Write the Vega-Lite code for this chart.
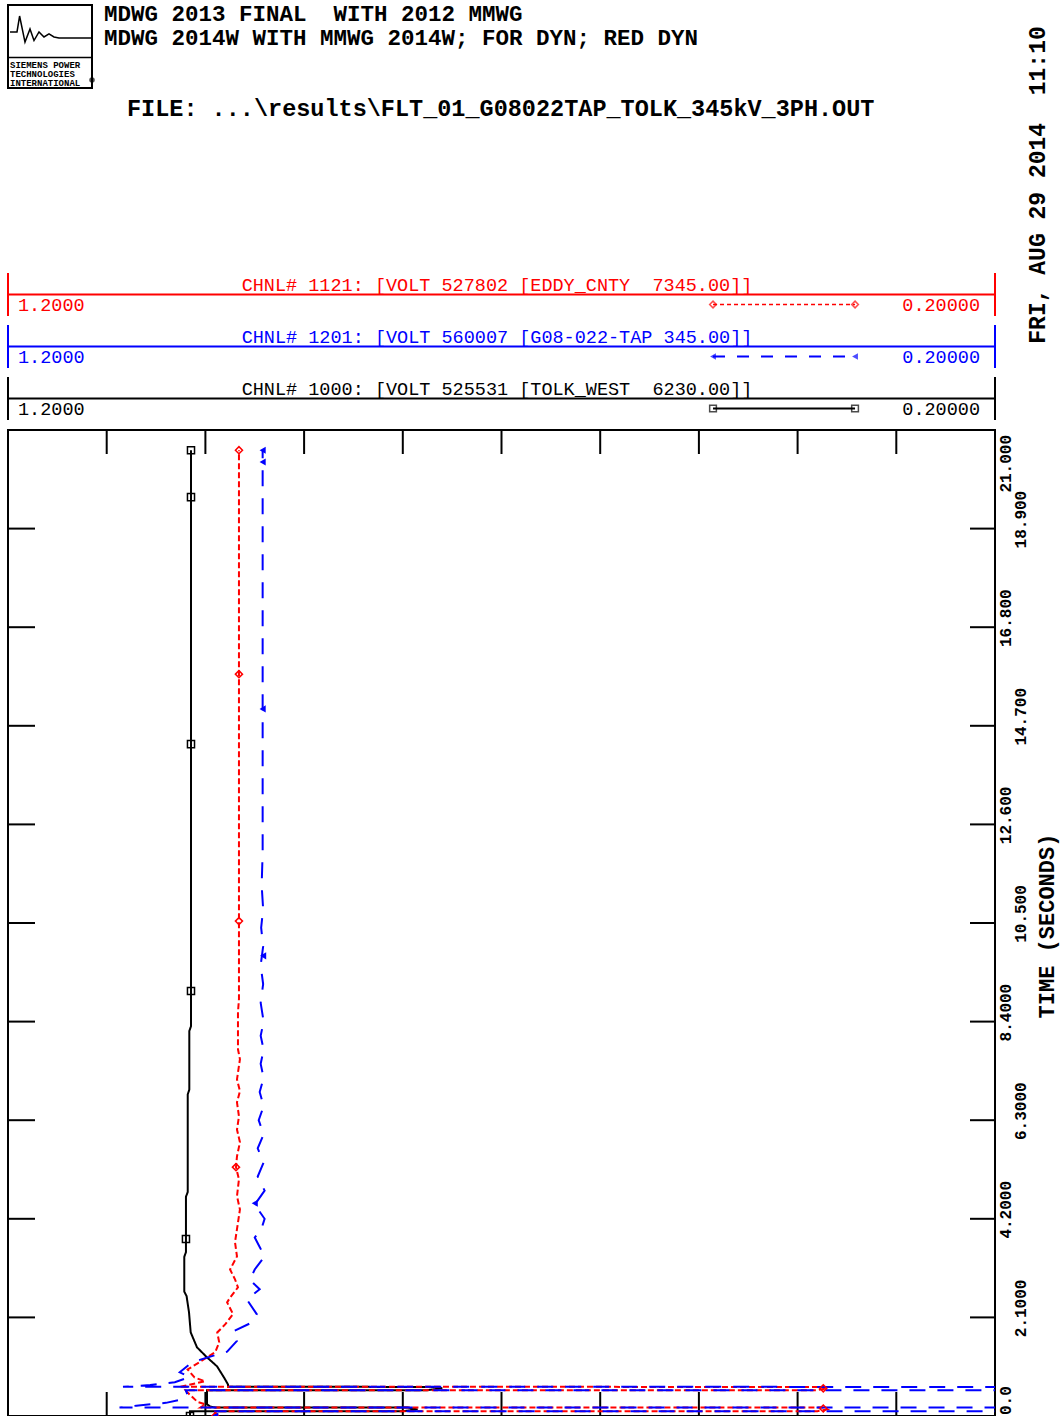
{
  "$schema": "https://vega.github.io/schema/vega-lite/v6.json",
  "autosize": {"type": "none"},
  "width": 987,
  "height": 986,
  "padding": {"left": 8, "top": 430, "right": 68, "bottom": 0},
  "background": "white",
  "config": {"view": {"stroke": null}, "font": "Liberation Mono"},
  "datasets": {
    "traces": [
      {"ch": "1000", "t": 0, "v": 1.0156}, {"ch": "1000", "t": 0.1, "v": 1.0156},
      {"ch": "1000", "t": 0.101, "v": 0.80}, {"ch": "1000", "t": 0.14, "v": 0.785}, {"ch": "1000", "t": 0.18, "v": 0.795},
      {"ch": "1000", "t": 0.181, "v": 0.9903}, {"ch": "1000", "t": 0.2, "v": 0.995}, {"ch": "1000", "t": 0.25, "v": 0.9984},
      {"ch": "1000", "t": 0.55, "v": 0.9984},
      {"ch": "1000", "t": 0.551, "v": 0.775}, {"ch": "1000", "t": 0.59, "v": 0.76}, {"ch": "1000", "t": 0.62, "v": 0.767},
      {"ch": "1000", "t": 0.621, "v": 0.9771}, {"ch": "1000", "t": 0.673, "v": 0.9771}, {"ch": "1000", "t": 0.822, "v": 0.9812},
      {"ch": "1000", "t": 1.057, "v": 0.9882}, {"ch": "1000", "t": 1.249, "v": 0.9984}, {"ch": "1000", "t": 1.462, "v": 1.0085},
      {"ch": "1000", "t": 1.781, "v": 1.0149}, {"ch": "1000", "t": 2.208, "v": 1.0166}, {"ch": "1000", "t": 2.485, "v": 1.0186},
      {"ch": "1000", "t": 2.55, "v": 1.019}, {"ch": "1000", "t": 2.65, "v": 1.0214}, {"ch": "1000", "t": 3.39, "v": 1.0214},
      {"ch": "1000", "t": 3.49, "v": 1.0197}, {"ch": "1000", "t": 4.67, "v": 1.0197}, {"ch": "1000", "t": 4.77, "v": 1.0179},
      {"ch": "1000", "t": 6.85, "v": 1.0179}, {"ch": "1000", "t": 6.95, "v": 1.0163}, {"ch": "1000", "t": 8.2, "v": 1.0163},
      {"ch": "1000", "t": 8.3, "v": 1.0146}, {"ch": "1000", "t": 20.57, "v": 1.0146},
      {"ch": "1121", "t": 0, "v": 0.99}, {"ch": "1121", "t": 0.1, "v": 0.99},
      {"ch": "1121", "t": 0.101, "v": 0.38}, {"ch": "1121", "t": 0.14, "v": 0.37}, {"ch": "1121", "t": 0.18, "v": 0.374},
      {"ch": "1121", "t": 0.181, "v": 1.005}, {"ch": "1121", "t": 0.25, "v": 1.0}, {"ch": "1121", "t": 0.3, "v": 1.008},
      {"ch": "1121", "t": 0.4, "v": 1.013}, {"ch": "1121", "t": 0.5, "v": 1.018}, {"ch": "1121", "t": 0.55, "v": 1.02},
      {"ch": "1121", "t": 0.551, "v": 0.38}, {"ch": "1121", "t": 0.59, "v": 0.37}, {"ch": "1121", "t": 0.62, "v": 0.374},
      {"ch": "1121", "t": 0.621, "v": 1.026}, {"ch": "1121", "t": 0.74, "v": 1.0004}, {"ch": "1121", "t": 0.82, "v": 1.011},
      {"ch": "1121", "t": 0.99, "v": 1.018}, {"ch": "1121", "t": 1.16, "v": 1.005}, {"ch": "1121", "t": 1.36, "v": 0.99},
      {"ch": "1121", "t": 1.57, "v": 0.986}, {"ch": "1121", "t": 1.78, "v": 0.988}, {"ch": "1121", "t": 1.95, "v": 0.98},
      {"ch": "1121", "t": 2.17, "v": 0.972}, {"ch": "1121", "t": 2.42, "v": 0.978}, {"ch": "1121", "t": 2.52, "v": 0.975},
      {"ch": "1121", "t": 2.74, "v": 0.967}, {"ch": "1121", "t": 2.91, "v": 0.97}, {"ch": "1121", "t": 3.12, "v": 0.975},
      {"ch": "1121", "t": 3.4, "v": 0.968}, {"ch": "1121", "t": 3.7, "v": 0.97}, {"ch": "1121", "t": 3.98, "v": 0.968},
      {"ch": "1121", "t": 4.4, "v": 0.965}, {"ch": "1121", "t": 4.68, "v": 0.968}, {"ch": "1121", "t": 5.04, "v": 0.966},
      {"ch": "1121", "t": 5.3, "v": 0.969}, {"ch": "1121", "t": 5.53, "v": 0.968}, {"ch": "1121", "t": 5.83, "v": 0.965},
      {"ch": "1121", "t": 6.1, "v": 0.968}, {"ch": "1121", "t": 6.38, "v": 0.966}, {"ch": "1121", "t": 6.68, "v": 0.968},
      {"ch": "1121", "t": 6.92, "v": 0.965}, {"ch": "1121", "t": 7.17, "v": 0.968}, {"ch": "1121", "t": 7.6, "v": 0.965},
      {"ch": "1121", "t": 7.81, "v": 0.967}, {"ch": "1121", "t": 8.6, "v": 0.967}, {"ch": "1121", "t": 8.88, "v": 0.966},
      {"ch": "1121", "t": 20.57, "v": 0.966},
      {"ch": "1201", "t": 0, "v": 0.99}, {"ch": "1201", "t": 0.1, "v": 0.99},
      {"ch": "1201", "t": 0.101, "v": 0.1}, {"ch": "1201", "t": 0.18, "v": 0.1},
      {"ch": "1201", "t": 0.181, "v": 1.087}, {"ch": "1201", "t": 0.22, "v": 1.07}, {"ch": "1201", "t": 0.28, "v": 1.04},
      {"ch": "1201", "t": 0.35, "v": 1.025}, {"ch": "1201", "t": 0.45, "v": 1.018}, {"ch": "1201", "t": 0.55, "v": 1.02},
      {"ch": "1201", "t": 0.551, "v": 0.1}, {"ch": "1201", "t": 0.62, "v": 0.1},
      {"ch": "1201", "t": 0.621, "v": 1.0835}, {"ch": "1201", "t": 0.66, "v": 1.056}, {"ch": "1201", "t": 0.72, "v": 1.031},
      {"ch": "1201", "t": 0.83, "v": 1.016}, {"ch": "1201", "t": 0.93, "v": 1.026}, {"ch": "1201", "t": 1.1, "v": 1.016},
      {"ch": "1201", "t": 1.2, "v": 1.005}, {"ch": "1201", "t": 1.31, "v": 0.988}, {"ch": "1201", "t": 1.37, "v": 0.978},
      {"ch": "1201", "t": 1.6, "v": 0.968}, {"ch": "1201", "t": 1.8, "v": 0.972}, {"ch": "1201", "t": 2.0, "v": 0.952},
      {"ch": "1201", "t": 2.17, "v": 0.948}, {"ch": "1201", "t": 2.48, "v": 0.958}, {"ch": "1201", "t": 2.7, "v": 0.945},
      {"ch": "1201", "t": 2.9, "v": 0.955}, {"ch": "1201", "t": 3.12, "v": 0.95}, {"ch": "1201", "t": 3.4, "v": 0.94},
      {"ch": "1201", "t": 3.6, "v": 0.945}, {"ch": "1201", "t": 3.8, "v": 0.95}, {"ch": "1201", "t": 4.0, "v": 0.943},
      {"ch": "1201", "t": 4.2, "v": 0.94}, {"ch": "1201", "t": 4.5, "v": 0.95}, {"ch": "1201", "t": 4.8, "v": 0.94},
      {"ch": "1201", "t": 5.1, "v": 0.947}, {"ch": "1201", "t": 5.4, "v": 0.941}, {"ch": "1201", "t": 5.7, "v": 0.947},
      {"ch": "1201", "t": 6.0, "v": 0.941}, {"ch": "1201", "t": 6.3, "v": 0.946}, {"ch": "1201", "t": 6.6, "v": 0.941},
      {"ch": "1201", "t": 6.9, "v": 0.945}, {"ch": "1201", "t": 7.2, "v": 0.941}, {"ch": "1201", "t": 7.5, "v": 0.944},
      {"ch": "1201", "t": 7.8, "v": 0.941}, {"ch": "1201", "t": 8.1, "v": 0.944}, {"ch": "1201", "t": 8.4, "v": 0.941},
      {"ch": "1201", "t": 8.8, "v": 0.944}, {"ch": "1201", "t": 9.2, "v": 0.9415}, {"ch": "1201", "t": 9.6, "v": 0.944},
      {"ch": "1201", "t": 10.0, "v": 0.9415}, {"ch": "1201", "t": 10.4, "v": 0.9435}, {"ch": "1201", "t": 10.8, "v": 0.9415},
      {"ch": "1201", "t": 11.3, "v": 0.943}, {"ch": "1201", "t": 12.0, "v": 0.942}, {"ch": "1201", "t": 20.57, "v": 0.942}
    ],
    "openMarkers": [
      {"ch": "1000", "t": 20.57, "v": 1.0146}, {"ch": "1000", "t": 19.57, "v": 1.0146}, {"ch": "1000", "t": 14.31, "v": 1.0146},
      {"ch": "1000", "t": 9.05, "v": 1.0146}, {"ch": "1000", "t": 3.77, "v": 1.0197}, {"ch": "1000", "t": 0, "v": 1.0156},
      {"ch": "1121", "t": 20.57, "v": 0.966}, {"ch": "1121", "t": 15.8, "v": 0.966}, {"ch": "1121", "t": 10.54, "v": 0.966},
      {"ch": "1121", "t": 5.3, "v": 0.969}, {"ch": "1121", "t": 0, "v": 0.99}, {"ch": "1121", "t": 0.16, "v": 0.374}, {"ch": "1121", "t": 0.59, "v": 0.374}
    ],
    "blueMarkers": [
      {"ch": "1201", "t": 20.57, "v": 0.942}, {"ch": "1201", "t": 20.32, "v": 0.942}, {"ch": "1201", "t": 15.06, "v": 0.942},
      {"ch": "1201", "t": 9.8, "v": 0.9415}, {"ch": "1201", "t": 4.53, "v": 0.95}, {"ch": "1201", "t": 0, "v": 0.99}
    ],
    "timeTicks": [{"t": 2.1}, {"t": 4.2}, {"t": 6.3}, {"t": 8.4}, {"t": 10.5}, {"t": 12.6}, {"t": 14.7}, {"t": 16.8}, {"t": 18.9}],
    "voltTicks": [{"v": 1.1}, {"v": 1.0}, {"v": 0.9}, {"v": 0.8}, {"v": 0.7}, {"v": 0.6}, {"v": 0.5}, {"v": 0.4}, {"v": 0.3}],
    "evenLabels": [{"t": 4.2, "label": "4.2000"}, {"t": 8.4, "label": "8.4000"}, {"t": 12.6, "label": "12.600"}, {"t": 16.8, "label": "16.800"}],
    "oddLabels": [{"t": 2.1, "label": "2.1000"}, {"t": 6.3, "label": "6.3000"}, {"t": 10.5, "label": "10.500"}, {"t": 14.7, "label": "14.700"}, {"t": 18.9, "label": "18.900"}],
    "topLabel": [{"t": 21, "label": "21.000"}],
    "bottomLabel": [{"t": 0, "label": "0.0"}],
    "logo": [
      {"v": 1.19797, "t": 29.477}, {"v": 1.19088, "t": 29.477}, {"v": 1.18825, "t": 29.817},
      {"v": 1.18278, "t": 29.263}, {"v": 1.17771, "t": 29.540}, {"v": 1.17366, "t": 29.295},
      {"v": 1.16859, "t": 29.477}, {"v": 1.16353, "t": 29.371}, {"v": 1.15846, "t": 29.435},
      {"v": 1.15340, "t": 29.371}, {"v": 1.14833, "t": 29.349}, {"v": 1.11591, "t": 29.349}
    ]
  },
  "data": {"values": [{"k": 1}]},
  "layer": [
    {
      "mark": {"type": "rect", "fill": null, "stroke": "black", "strokeWidth": 2},
      "encoding": {
        "x": {"datum": 1.2, "type": "quantitative", "scale": {"domain": [0.2, 1.2], "reverse": true, "nice": false, "zero": false}, "axis": null},
        "x2": {"datum": 0.2},
        "y": {"datum": 0, "type": "quantitative", "scale": {"domain": [0, 21], "nice": false, "zero": false}, "axis": null},
        "y2": {"datum": 21}
      }
    },
    {
      "data": {"name": "timeTicks"},
      "mark": {"type": "rule", "color": "black", "strokeWidth": 2, "x2Offset": 27},
      "encoding": {"x": {"datum": 1.2, "type": "quantitative"}, "x2": {"datum": 1.2}, "y": {"field": "t", "type": "quantitative"}}
    },
    {
      "data": {"name": "timeTicks"},
      "mark": {"type": "rule", "color": "black", "strokeWidth": 2, "x2Offset": -25},
      "encoding": {"x": {"datum": 0.2, "type": "quantitative"}, "x2": {"datum": 0.2}, "y": {"field": "t", "type": "quantitative"}}
    },
    {
      "data": {"name": "voltTicks"},
      "mark": {"type": "rule", "color": "black", "strokeWidth": 2, "y2Offset": 24},
      "encoding": {"x": {"field": "v", "type": "quantitative"}, "y": {"datum": 21, "type": "quantitative"}, "y2": {"datum": 21}}
    },
    {
      "data": {"name": "voltTicks"},
      "mark": {"type": "rule", "color": "black", "strokeWidth": 2, "y2Offset": -24},
      "encoding": {"x": {"field": "v", "type": "quantitative"}, "y": {"datum": 0, "type": "quantitative"}, "y2": {"datum": 0}}
    },
    {
      "data": {"name": "traces"},
      "mark": {"type": "line", "clip": true, "strokeWidth": 2},
      "encoding": {
        "x": {"field": "v", "type": "quantitative"},
        "y": {"field": "t", "type": "quantitative"},
        "color": {"field": "ch", "type": "nominal", "scale": {"domain": ["1121", "1201", "1000"], "range": ["#ff0000", "#0000ff", "#000000"]}, "legend": null},
        "strokeDash": {"field": "ch", "type": "nominal", "scale": {"domain": ["1121", "1201", "1000"], "range": [[6, 3], [16, 12], [1, 0]]}, "legend": null},
        "order": {"field": "t", "type": "quantitative"}
      }
    },
    {
      "data": {"name": "openMarkers"},
      "mark": {"type": "point", "clip": true, "size": 50, "strokeWidth": 1.5, "filled": false, "opacity": 1},
      "encoding": {
        "x": {"field": "v", "type": "quantitative"},
        "y": {"field": "t", "type": "quantitative"},
        "color": {"field": "ch", "type": "nominal", "legend": null},
        "shape": {"field": "ch", "type": "nominal", "scale": {"domain": ["1121", "1201", "1000"], "range": ["diamond", "triangle-left", "square"]}, "legend": null}
      }
    },
    {
      "data": {"name": "blueMarkers"},
      "mark": {"type": "point", "clip": true, "size": 50, "filled": true, "shape": "triangle-left", "color": "#0000ff", "opacity": 1},
      "encoding": {"x": {"field": "v", "type": "quantitative"}, "y": {"field": "t", "type": "quantitative"}}
    },
    {
      "data": {"name": "evenLabels"},
      "mark": {"type": "text", "angle": 270, "align": "center", "baseline": "top", "xOffset": 3, "yOffset": -9, "font": "Liberation Mono", "fontSize": 16, "fontWeight": "bold", "color": "black"},
      "encoding": {"x": {"datum": 0.2, "type": "quantitative"}, "y": {"field": "t", "type": "quantitative"}, "text": {"field": "label"}}
    },
    {
      "data": {"name": "oddLabels"},
      "mark": {"type": "text", "angle": 270, "align": "center", "baseline": "top", "xOffset": 18, "yOffset": -9, "font": "Liberation Mono", "fontSize": 16, "fontWeight": "bold", "color": "black"},
      "encoding": {"x": {"datum": 0.2, "type": "quantitative"}, "y": {"field": "t", "type": "quantitative"}, "text": {"field": "label"}}
    },
    {
      "data": {"name": "topLabel"},
      "mark": {"type": "text", "angle": 270, "align": "right", "baseline": "top", "xOffset": 3, "yOffset": 5, "font": "Liberation Mono", "fontSize": 16, "fontWeight": "bold", "color": "black"},
      "encoding": {"x": {"datum": 0.2, "type": "quantitative"}, "y": {"field": "t", "type": "quantitative"}, "text": {"field": "label"}}
    },
    {
      "data": {"name": "bottomLabel"},
      "mark": {"type": "text", "angle": 270, "align": "left", "baseline": "top", "xOffset": 3, "yOffset": -1, "font": "Liberation Mono", "fontSize": 16, "fontWeight": "bold", "color": "black"},
      "encoding": {"x": {"datum": 0.2, "type": "quantitative"}, "y": {"field": "t", "type": "quantitative"}, "text": {"field": "label"}}
    },
    {
      "mark": {"type": "text", "text": "TIME (SECONDS)", "angle": 270, "align": "center", "baseline": "middle", "font": "Liberation Mono", "fontSize": 22, "fontWeight": "bold", "color": "black"},
      "encoding": {"x": {"datum": 0.14732, "type": "quantitative"}, "y": {"datum": 10.436, "type": "quantitative"}}
    },
    {
      "mark": {"type": "text", "text": "FRI, AUG 29 2014\u00a0 11:10", "angle": 270, "align": "center", "baseline": "middle", "font": "Liberation Mono", "fontSize": 23, "fontWeight": "bold", "color": "black"},
      "encoding": {"x": {"datum": 0.15643, "type": "quantitative"}, "y": {"datum": 26.218, "type": "quantitative"}}
    },
    {
      "mark": {"type": "text", "text": "MDWG 2013 FINAL\u00a0 WITH 2012 MMWG", "align": "left", "baseline": "alphabetic", "font": "Liberation Mono", "fontSize": 22.5, "fontWeight": "bold", "color": "black"},
      "encoding": {"x": {"datum": 1.10274, "type": "quantitative"}, "y": {"datum": 29.711, "type": "quantitative"}}
    },
    {
      "mark": {"type": "text", "text": "MDWG 2014W WITH MMWG 2014W; FOR DYN; RED DYN", "align": "left", "baseline": "alphabetic", "font": "Liberation Mono", "fontSize": 22.5, "fontWeight": "bold", "color": "black"},
      "encoding": {"x": {"datum": 1.10274, "type": "quantitative"}, "y": {"datum": 29.21, "type": "quantitative"}}
    },
    {
      "mark": {"type": "text", "text": "FILE: ...\\results\\FLT_01_G08022TAP_TOLK_345kV_3PH.OUT", "align": "left", "baseline": "alphabetic", "font": "Liberation Mono", "fontSize": 23.5, "fontWeight": "bold", "color": "black"},
      "encoding": {"x": {"datum": 1.07943, "type": "quantitative"}, "y": {"datum": 27.677, "type": "quantitative"}}
    },
    {
      "mark": {"type": "rect", "fill": null, "stroke": "black", "strokeWidth": 2},
      "encoding": {"x": {"datum": 1.2, "type": "quantitative"}, "x2": {"datum": 1.11489}, "y": {"datum": 30.052, "type": "quantitative"}, "y2": {"datum": 28.284}}
    },
    {
      "data": {"name": "logo"},
      "mark": {"type": "line", "color": "black", "strokeWidth": 1.5},
      "encoding": {"x": {"field": "v", "type": "quantitative"}, "y": {"field": "t", "type": "quantitative"}}
    },
    {
      "mark": {"type": "rule", "color": "black", "strokeWidth": 1.5},
      "encoding": {"x": {"datum": 1.2, "type": "quantitative"}, "x2": {"datum": 1.11489}, "y": {"datum": 28.934, "type": "quantitative"}}
    },
    {
      "mark": {"type": "text", "text": ["SIEMENS POWER", "TECHNOLOGIES", "INTERNATIONAL"], "align": "left", "baseline": "top", "font": "Liberation Mono", "fontSize": 9, "lineHeight": 9, "fontWeight": "bold", "color": "black"},
      "encoding": {"x": {"datum": 1.19797, "type": "quantitative"}, "y": {"datum": 28.859, "type": "quantitative"}}
    },
    {
      "mark": {"type": "point", "filled": true, "size": 30, "color": "black"},
      "encoding": {"x": {"datum": 1.11489, "type": "quantitative"}, "y": {"datum": 28.454, "type": "quantitative"}}
    },

    {"mark": {"type": "rule", "color": "#ff0000", "strokeWidth": 2},
     "encoding": {"x": {"datum": 1.2, "type": "quantitative"}, "y": {"datum": 24.344, "type": "quantitative"}, "y2": {"datum": 23.428}}},
    {"mark": {"type": "rule", "color": "#ff0000", "strokeWidth": 2},
     "encoding": {"x": {"datum": 0.2, "type": "quantitative"}, "y": {"datum": 24.344, "type": "quantitative"}, "y2": {"datum": 23.428}}},
    {"mark": {"type": "rule", "color": "#ff0000", "strokeWidth": 2},
     "encoding": {"x": {"datum": 1.2, "type": "quantitative"}, "x2": {"datum": 0.2}, "y": {"datum": 23.886, "type": "quantitative"}}},
    {"mark": {"type": "text", "text": "CHNL# 1121: [VOLT 527802 [EDDY_CNTY\u00a0 7345.00]]", "align": "center", "baseline": "alphabetic", "font": "Liberation Mono", "fontSize": 18.5, "color": "#ff0000"},
     "encoding": {"x": {"datum": 0.70456, "type": "quantitative"}, "y": {"datum": 23.96, "type": "quantitative"}}},
    {"mark": {"type": "text", "text": "1.2000", "align": "left", "baseline": "alphabetic", "xOffset": 10, "font": "Liberation Mono", "fontSize": 18.5, "color": "#ff0000"},
     "encoding": {"x": {"datum": 1.2, "type": "quantitative"}, "y": {"datum": 23.535, "type": "quantitative"}}},
    {"mark": {"type": "text", "text": "0.20000", "align": "right", "baseline": "alphabetic", "xOffset": -15, "font": "Liberation Mono", "fontSize": 18.5, "color": "#ff0000"},
     "encoding": {"x": {"datum": 0.2, "type": "quantitative"}, "y": {"datum": 23.535, "type": "quantitative"}}},
    {"mark": {"type": "rule", "color": "#ff0000", "strokeWidth": 1.5, "strokeDash": [4, 3]},
     "encoding": {"x": {"datum": 0.4857, "type": "quantitative"}, "x2": {"datum": 0.3418}, "y": {"datum": 23.673, "type": "quantitative"}}},
    {"mark": {"type": "point", "shape": "diamond", "filled": false, "color": "#ff0000", "size": 45, "strokeWidth": 1.5},
     "encoding": {"x": {"datum": 0.4857, "type": "quantitative"}, "y": {"datum": 23.673, "type": "quantitative"}}},
    {"mark": {"type": "point", "shape": "diamond", "filled": false, "color": "#ff0000", "size": 45, "strokeWidth": 1.5},
     "encoding": {"x": {"datum": 0.3418, "type": "quantitative"}, "y": {"datum": 23.673, "type": "quantitative"}}},

    {"mark": {"type": "rule", "color": "#0000ff", "strokeWidth": 2},
     "encoding": {"x": {"datum": 1.2, "type": "quantitative"}, "y": {"datum": 23.236, "type": "quantitative"}, "y2": {"datum": 22.32}}},
    {"mark": {"type": "rule", "color": "#0000ff", "strokeWidth": 2},
     "encoding": {"x": {"datum": 0.2, "type": "quantitative"}, "y": {"datum": 23.236, "type": "quantitative"}, "y2": {"datum": 22.32}}},
    {"mark": {"type": "rule", "color": "#0000ff", "strokeWidth": 2},
     "encoding": {"x": {"datum": 1.2, "type": "quantitative"}, "x2": {"datum": 0.2}, "y": {"datum": 22.778, "type": "quantitative"}}},
    {"mark": {"type": "text", "text": "CHNL# 1201: [VOLT 560007 [G08-022-TAP 345.00]]", "align": "center", "baseline": "alphabetic", "font": "Liberation Mono", "fontSize": 18.5, "color": "#0000ff"},
     "encoding": {"x": {"datum": 0.70456, "type": "quantitative"}, "y": {"datum": 22.852, "type": "quantitative"}}},
    {"mark": {"type": "text", "text": "1.2000", "align": "left", "baseline": "alphabetic", "xOffset": 10, "font": "Liberation Mono", "fontSize": 18.5, "color": "#0000ff"},
     "encoding": {"x": {"datum": 1.2, "type": "quantitative"}, "y": {"datum": 22.427, "type": "quantitative"}}},
    {"mark": {"type": "text", "text": "0.20000", "align": "right", "baseline": "alphabetic", "xOffset": -15, "font": "Liberation Mono", "fontSize": 18.5, "color": "#0000ff"},
     "encoding": {"x": {"datum": 0.2, "type": "quantitative"}, "y": {"datum": 22.427, "type": "quantitative"}}},
    {"mark": {"type": "rule", "color": "#0000ff", "strokeWidth": 2, "strokeDash": [12, 12]},
     "encoding": {"x": {"datum": 0.4857, "type": "quantitative"}, "x2": {"datum": 0.3418}, "y": {"datum": 22.565, "type": "quantitative"}}},
    {"mark": {"type": "point", "shape": "triangle-left", "filled": true, "color": "#0000ff", "size": 45},
     "encoding": {"x": {"datum": 0.4857, "type": "quantitative"}, "y": {"datum": 22.565, "type": "quantitative"}}},
    {"mark": {"type": "point", "shape": "triangle-left", "filled": true, "color": "#0000ff", "size": 45},
     "encoding": {"x": {"datum": 0.3418, "type": "quantitative"}, "y": {"datum": 22.565, "type": "quantitative"}}},

    {"mark": {"type": "rule", "color": "#000000", "strokeWidth": 2},
     "encoding": {"x": {"datum": 1.2, "type": "quantitative"}, "y": {"datum": 22.129, "type": "quantitative"}, "y2": {"datum": 21.213}}},
    {"mark": {"type": "rule", "color": "#000000", "strokeWidth": 2},
     "encoding": {"x": {"datum": 0.2, "type": "quantitative"}, "y": {"datum": 22.129, "type": "quantitative"}, "y2": {"datum": 21.213}}},
    {"mark": {"type": "rule", "color": "#000000", "strokeWidth": 2},
     "encoding": {"x": {"datum": 1.2, "type": "quantitative"}, "x2": {"datum": 0.2}, "y": {"datum": 21.671, "type": "quantitative"}}},
    {"mark": {"type": "text", "text": "CHNL# 1000: [VOLT 525531 [TOLK_WEST\u00a0 6230.00]]", "align": "center", "baseline": "alphabetic", "font": "Liberation Mono", "fontSize": 18.5, "color": "#000000"},
     "encoding": {"x": {"datum": 0.70456, "type": "quantitative"}, "y": {"datum": 21.745, "type": "quantitative"}}},
    {"mark": {"type": "text", "text": "1.2000", "align": "left", "baseline": "alphabetic", "xOffset": 10, "font": "Liberation Mono", "fontSize": 18.5, "color": "#000000"},
     "encoding": {"x": {"datum": 1.2, "type": "quantitative"}, "y": {"datum": 21.32, "type": "quantitative"}}},
    {"mark": {"type": "text", "text": "0.20000", "align": "right", "baseline": "alphabetic", "xOffset": -15, "font": "Liberation Mono", "fontSize": 18.5, "color": "#000000"},
     "encoding": {"x": {"datum": 0.2, "type": "quantitative"}, "y": {"datum": 21.32, "type": "quantitative"}}},
    {"mark": {"type": "rule", "color": "#000000", "strokeWidth": 2},
     "encoding": {"x": {"datum": 0.4857, "type": "quantitative"}, "x2": {"datum": 0.3418}, "y": {"datum": 21.458, "type": "quantitative"}}},
    {"mark": {"type": "point", "shape": "square", "filled": false, "color": "#000000", "size": 45, "strokeWidth": 1.5},
     "encoding": {"x": {"datum": 0.4857, "type": "quantitative"}, "y": {"datum": 21.458, "type": "quantitative"}}},
    {"mark": {"type": "point", "shape": "square", "filled": false, "color": "#000000", "size": 45, "strokeWidth": 1.5},
     "encoding": {"x": {"datum": 0.3418, "type": "quantitative"}, "y": {"datum": 21.458, "type": "quantitative"}}}
  ]
}
